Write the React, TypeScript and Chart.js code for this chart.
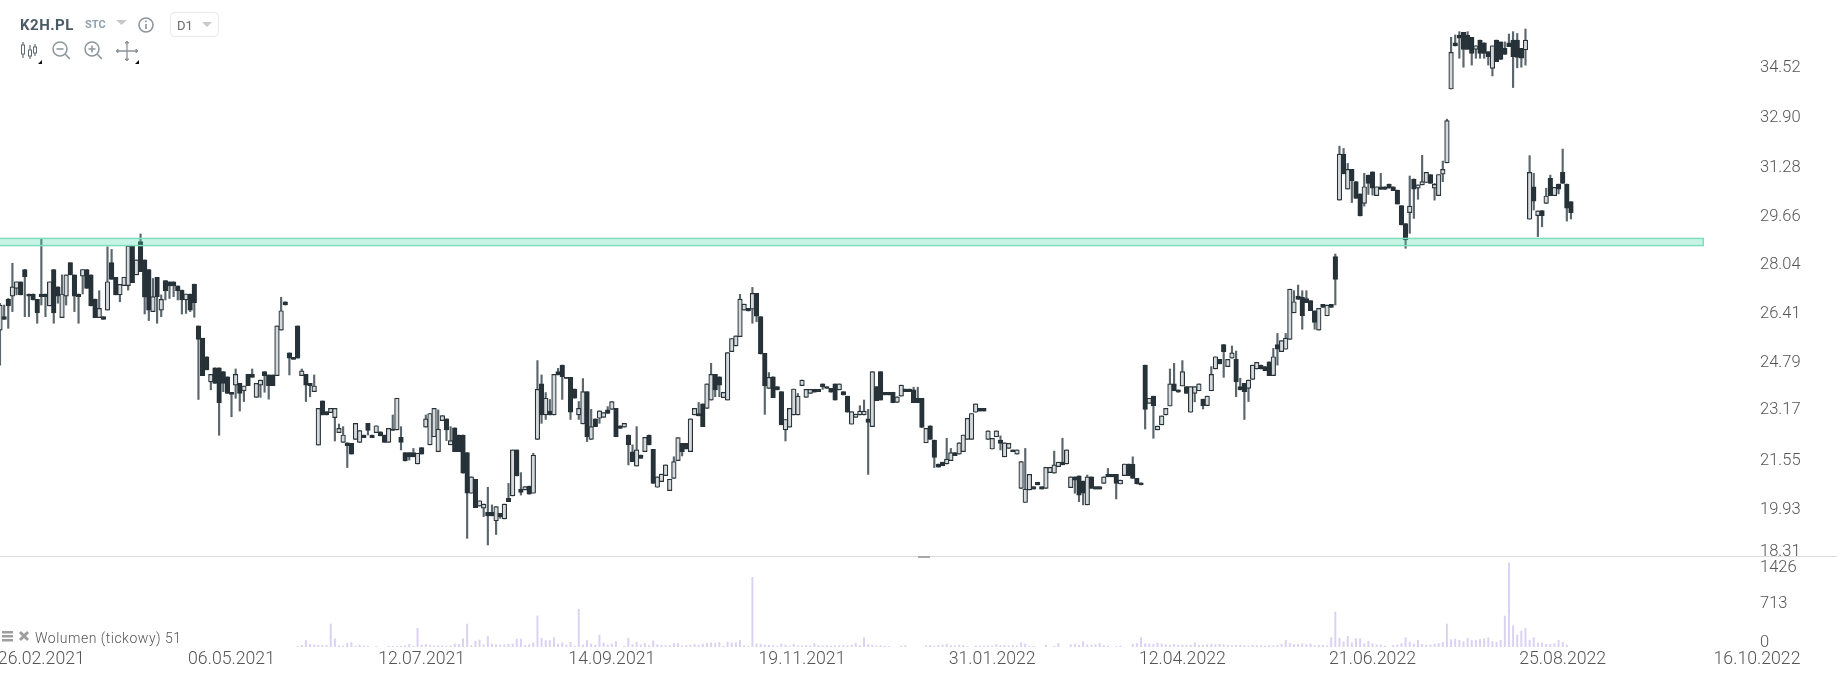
import { useEffect, useRef } from 'react';
import Chart from 'chart.js/auto';

// bar slots on the time axis, the last ones stay empty
const SLOT_COUNT = 426;

const opens = [
  25.76,26.21,26.79,26.90,27.16,27.38,27.79,26.97,26.97,26.79,
  26.97,26.97,26.57,27.79,27.21,26.18,26.90,28.02,27.61,26.97,
  27.57,27.79,27.61,26.80,26.18,26.21,26.43,28.02,27.53,26.94,
  27.25,27.25,28.58,27.61,28.72,28.11,27.79,26.38,27.53,26.43,
  27.42,27.38,27.38,27.24,27.10,26.77,26.97,27.30,25.90,25.49,
  24.87,24.03,24.50,24.50,24.37,24.20,23.68,23.92,23.98,23.73,
  24.28,24.28,23.51,23.92,24.37,24.26,24.26,24.24,25.76,26.71,
  25.00,24.85,25.90,24.24,24.28,23.98,23.70,21.91,23.39,23.03,
  23.00,22.83,22.33,22.00,21.99,21.97,22.10,22.00,22.25,22.64,
  22.25,22.33,22.36,22.25,22.00,22.45,22.42,22.17,21.66,21.66,
  21.66,21.28,21.83,22.51,21.92,22.19,21.69,22.73,22.79,21.92,
  22.49,22.25,22.25,21.66,20.30,20.77,19.87,19.80,19.66,19.66,
  19.38,19.63,19.44,20.13,20.21,21.75,20.43,20.41,20.54,20.30,
  22.10,23.96,22.92,23.05,22.92,24.37,24.59,24.18,24.18,23.79,
  22.92,22.62,23.70,22.10,22.79,22.81,22.84,23.09,23.11,23.14,
  22.56,22.51,22.25,21.69,21.21,21.58,21.69,22.25,21.77,20.50,
  20.69,20.89,20.39,20.80,21.39,21.97,21.97,21.69,22.92,22.97,
  23.29,23.14,23.42,24.28,24.20,23.50,23.42,25.04,25.23,25.54,
  26.43,26.49,26.46,26.99,26.21,24.98,23.81,24.20,23.87,23.70,
  22.42,22.51,22.92,22.92,23.90,23.51,23.64,23.78,23.78,23.96,
  23.87,23.81,23.96,23.76,23.70,23.55,22.61,22.84,22.92,22.92,
  22.79,22.53,23.87,24.37,23.68,23.68,23.68,23.34,23.55,23.79,
  23.79,23.76,23.48,23.48,21.99,22.56,22.08,21.28,21.34,21.28,
  21.39,21.66,21.61,21.69,22.10,22.10,23.01,23.14,23.14,22.10,
  21.78,22.19,22.08,21.52,21.80,21.75,21.61,20.46,19.99,20.41,
  20.52,20.67,20.52,20.46,20.99,20.97,21.19,21.34,21.28,20.49,
  20.85,20.88,20.71,19.91,20.85,20.52,20.52,20.63,20.93,20.93,
  20.93,20.61,20.89,21.28,21.28,20.80,20.65,24.59,23.31,23.55,
  22.42,22.59,22.92,23.22,23.96,23.76,23.89,23.87,23.01,23.64,
  23.73,23.45,23.23,23.73,24.46,24.78,25.28,24.54,24.82,24.78,
  23.87,23.98,23.81,24.11,24.46,24.59,24.54,24.70,24.24,25.28,
  25.04,25.12,25.45,26.34,26.90,26.86,26.82,26.75,26.41,25.76,
  26.62,26.24,26.62,28.22,30.11,31.65,30.48,31.14,30.73,30.32,
  30.00,30.95,31.06,30.26,30.56,30.56,30.65,30.56,30.45,29.93,
  29.33,29.69,30.82,30.51,30.62,30.70,30.97,30.51,30.26,30.98,
  31.36,33.83,35.38,35.64,35.73,35.64,35.56,35.16,35.47,35.38,
  35.08,34.52,35.47,35.41,35.19,35.38,35.47,35.47,35.19,35.14,
  29.47,30.56,29.59,29.76,30.00,30.84,30.26,30.65,31.04,30.65,30.06,
];

const highs = [
  26.66,26.60,26.82,28.00,27.38,27.38,27.79,26.97,26.97,26.79,
  28.80,26.97,27.38,27.79,27.21,27.61,27.61,28.02,27.61,26.97,
  27.79,27.79,27.61,26.80,27.08,26.21,28.55,28.46,27.53,27.29,
  27.53,28.58,28.58,28.11,28.98,28.11,27.79,27.49,27.53,26.94,
  27.42,27.38,27.38,27.24,27.10,26.97,26.97,27.30,25.90,25.49,
  24.87,24.28,24.50,24.50,24.37,24.20,23.68,24.46,23.98,23.89,
  24.28,24.46,23.98,24.09,24.37,24.26,24.26,25.90,26.86,26.71,
  25.00,24.85,25.90,24.46,24.28,23.98,24.26,23.14,23.39,23.03,
  23.14,23.14,22.62,22.53,21.99,21.97,22.64,22.40,22.25,22.64,
  22.25,22.56,22.36,22.25,22.47,22.92,23.48,22.53,21.66,21.66,
  21.80,21.64,21.83,22.92,22.97,23.14,23.09,22.90,22.79,22.53,
  22.49,22.25,22.25,21.66,20.85,20.77,20.05,19.94,20.50,19.91,
  19.85,19.63,19.94,20.63,21.75,21.75,20.99,20.52,20.54,21.64,
  24.74,24.26,23.67,23.44,24.28,24.48,24.59,24.18,24.18,23.79,
  23.37,24.14,23.70,23.11,22.79,23.06,23.00,23.20,23.37,23.14,
  22.56,22.64,22.25,21.92,22.53,21.58,22.17,22.25,21.77,20.85,
  20.94,21.25,20.77,21.52,22.16,21.97,21.97,22.79,23.14,23.34,
  23.29,23.96,24.65,24.28,24.20,23.68,25.01,25.48,25.57,26.96,
  26.63,26.49,27.19,26.99,26.21,24.98,24.34,24.20,23.87,23.70,
  22.77,23.14,23.79,23.64,24.09,23.78,23.78,23.78,23.78,23.96,
  23.87,23.81,23.96,23.96,23.70,23.55,23.03,22.95,23.23,23.42,
  23.11,24.37,23.87,24.37,23.68,23.68,23.68,23.53,23.92,23.79,
  23.79,23.85,23.85,23.48,22.47,22.56,22.08,21.28,21.34,22.14,
  21.80,21.66,21.99,22.25,22.81,22.97,23.29,23.14,23.14,22.39,
  22.14,22.39,22.22,21.99,21.97,21.75,21.75,21.36,21.80,20.93,
  20.52,20.67,20.52,21.17,21.17,21.71,21.34,22.14,21.75,20.85,
  20.85,20.88,20.71,20.91,20.85,20.52,20.52,20.85,21.13,20.93,
  20.93,20.74,21.28,21.28,21.52,20.80,20.65,24.59,23.48,23.55,
  22.55,22.89,23.14,24.46,24.65,23.76,24.74,23.87,23.87,23.87,
  23.96,23.45,23.55,24.54,24.87,24.78,25.28,24.78,25.23,25.06,
  24.15,23.98,24.09,24.59,24.68,24.59,24.54,24.70,25.15,25.65,
  25.41,25.65,27.13,27.08,27.27,27.08,27.08,26.75,26.41,26.49,
  26.62,26.60,26.62,28.31,31.92,31.84,31.34,31.14,30.73,30.32,
  31.01,30.95,31.06,30.56,31.01,30.56,30.65,30.56,30.45,29.93,
  29.33,30.92,30.82,30.62,31.61,31.04,30.97,30.67,30.97,31.42,
  32.82,35.56,35.64,35.75,35.73,35.75,35.56,35.28,35.47,35.38,
  35.08,35.28,35.47,35.41,35.41,35.67,35.75,35.69,35.19,35.84,
  31.60,31.01,29.75,29.76,30.51,30.95,30.54,30.65,31.82,30.65,30.06,
];

const lows = [
  24.59,26.12,25.82,26.38,26.94,26.94,26.21,26.21,26.77,25.99,
  26.60,26.21,26.57,25.99,26.66,26.18,26.60,27.61,26.38,25.99,
  26.97,27.16,26.57,26.18,26.18,26.12,26.43,27.46,26.94,26.71,
  27.25,27.10,27.35,27.61,27.72,26.30,26.08,26.38,25.99,26.21,
  26.77,26.82,26.88,26.77,26.30,26.32,26.38,26.19,23.44,24.24,
  24.43,23.76,23.98,22.24,23.70,23.64,22.86,23.48,23.05,23.37,
  23.90,24.18,23.51,23.51,23.68,23.45,23.90,24.24,25.76,26.60,
  24.26,24.78,24.82,24.24,23.37,23.53,23.70,21.91,22.92,22.92,
  23.00,22.05,22.33,22.00,21.16,21.61,22.10,22.00,22.16,22.25,
  22.16,22.33,22.22,22.00,22.00,22.40,22.42,21.75,21.38,21.41,
  21.52,21.28,21.61,22.51,21.92,22.19,21.69,22.73,22.06,21.92,
  21.69,21.69,20.97,18.79,20.30,19.82,19.87,19.52,18.57,19.54,
  18.92,19.46,19.44,20.02,20.21,20.88,20.24,20.41,20.27,20.30,
  22.10,22.64,22.77,22.92,22.92,24.26,23.44,24.14,22.77,23.48,
  22.77,22.62,22.03,22.10,22.53,22.64,22.84,22.97,23.11,22.19,
  22.47,22.51,21.25,21.36,21.21,21.47,21.69,21.92,20.63,20.50,
  20.69,20.89,20.39,20.80,21.39,21.55,21.78,21.69,22.92,22.89,
  22.53,23.14,23.42,23.53,23.53,23.50,23.42,25.04,25.23,25.54,
  26.43,26.40,25.99,26.04,24.96,22.94,23.81,23.50,23.76,22.59,
  22.05,22.51,22.92,22.92,23.90,23.51,23.64,23.68,23.70,23.78,
  23.81,23.68,23.42,23.76,23.59,23.01,22.61,22.84,22.92,22.92,
  20.93,22.53,23.40,23.42,23.59,23.59,23.33,23.34,23.55,23.70,
  23.70,23.33,23.33,22.50,21.99,22.10,21.16,21.17,21.22,21.28,
  21.39,21.56,21.61,21.69,22.10,22.10,23.01,23.05,23.05,22.10,
  21.78,22.19,21.75,21.52,21.80,21.69,21.61,20.46,19.99,20.41,
  20.44,20.58,20.44,20.46,20.99,20.97,21.19,21.25,21.28,20.49,
  20.30,20.02,19.91,19.91,20.46,20.44,20.44,20.63,20.85,20.85,
  20.11,20.61,20.89,20.89,20.80,20.61,20.58,22.45,23.31,22.14,
  22.42,22.59,22.92,23.22,23.73,23.68,23.89,23.64,23.01,23.36,
  23.73,23.12,23.23,23.73,24.46,24.63,24.18,24.54,24.82,23.53,
  23.76,22.77,23.37,24.11,24.46,24.46,24.40,24.24,24.24,24.59,
  25.04,25.12,25.45,26.34,26.79,25.79,26.68,26.41,25.79,25.76,
  26.52,26.24,26.52,26.60,30.11,30.99,30.48,30.03,30.17,29.58,
  29.91,30.30,30.28,30.26,30.47,30.47,30.51,30.43,29.98,29.28,
  28.50,29.00,29.50,30.14,30.62,30.70,30.67,30.11,30.26,30.73,
  31.36,33.83,35.27,34.86,34.56,35.16,34.63,34.86,34.86,34.86,
  34.63,34.27,34.75,34.82,34.99,35.25,33.88,34.54,34.56,34.63,
  29.47,29.78,28.89,29.22,30.00,30.26,30.26,30.32,30.67,29.41,29.48,
];

const closes = [
  26.60,26.12,26.57,27.21,27.38,26.94,27.55,26.90,26.77,26.34,
  26.88,26.88,27.38,26.34,26.90,26.97,27.61,27.61,26.90,26.88,
  27.79,27.16,26.57,26.18,26.49,26.12,27.38,27.46,26.94,27.29,
  27.53,28.58,27.35,28.11,27.72,26.86,26.43,26.88,26.88,26.79,
  27.08,27.24,27.24,27.08,26.77,26.97,26.43,26.68,25.45,24.24,
  24.43,24.28,23.98,23.33,23.98,23.64,23.61,24.28,23.64,23.89,
  23.90,24.18,23.98,24.09,24.24,23.90,23.90,25.90,26.41,26.60,
  24.82,24.78,24.82,24.40,23.92,23.90,23.89,23.14,22.92,22.92,
  23.14,23.14,22.47,22.25,21.89,21.61,22.64,22.40,22.16,22.40,
  22.16,22.56,22.22,22.00,22.47,22.40,23.48,22.00,21.38,21.52,
  21.52,21.64,21.61,22.79,22.97,23.14,22.45,22.90,22.42,22.06,
  21.69,21.69,20.97,20.30,20.85,19.82,20.05,19.94,19.54,19.54,
  19.85,19.52,19.94,20.02,21.75,20.88,20.33,20.52,20.27,21.58,
  23.78,22.92,23.48,22.92,24.28,24.26,24.20,24.14,23.01,23.48,
  23.14,23.70,22.19,22.53,22.53,23.06,23.00,22.97,23.37,22.19,
  22.47,22.64,21.92,21.36,21.75,21.47,22.17,21.92,20.63,20.85,
  20.94,21.25,20.77,21.36,22.16,21.69,21.78,22.79,23.14,22.89,
  22.53,23.96,24.28,23.76,23.92,23.68,25.01,25.48,25.57,26.80,
  26.63,26.40,26.99,26.23,24.96,23.89,24.18,23.50,23.76,22.59,
  22.77,23.14,23.79,23.55,24.09,23.78,23.78,23.68,23.70,23.87,
  23.81,23.68,23.42,23.96,23.59,23.01,23.03,22.95,23.05,23.05,
  22.67,24.37,23.40,23.42,23.59,23.59,23.33,23.53,23.92,23.70,
  23.70,23.33,23.33,22.50,22.47,22.10,21.50,21.17,21.22,21.44,
  21.66,21.56,21.99,22.25,22.81,22.97,23.29,23.05,23.05,22.39,
  22.14,22.39,21.97,21.99,21.97,21.69,21.75,21.36,20.44,20.93,
  20.44,20.58,20.44,21.17,21.17,21.25,21.34,21.25,21.75,20.85,
  20.74,20.24,20.30,20.85,20.46,20.44,20.44,20.85,20.85,20.85,
  20.63,20.74,21.28,20.89,20.80,20.61,20.58,23.11,23.48,23.23,
  22.55,22.89,23.14,23.96,23.73,23.68,24.37,23.64,23.87,23.87,
  23.96,23.23,23.55,24.28,24.87,24.63,25.04,24.78,25.00,24.03,
  23.76,23.70,24.09,24.59,24.68,24.46,24.40,24.24,24.87,25.12,
  25.41,25.49,27.13,26.71,26.79,26.24,26.68,26.41,26.02,26.49,
  26.52,26.60,26.52,27.46,31.65,30.99,31.14,30.76,30.17,29.58,
  30.56,30.67,30.51,30.56,30.47,30.47,30.51,30.43,29.98,29.28,
  28.78,29.91,30.48,30.62,30.73,31.04,30.67,30.64,30.97,31.14,
  32.77,35.06,35.27,35.53,35.16,35.16,35.02,35.28,35.02,35.02,
  34.91,35.28,34.75,34.82,34.99,35.25,34.91,34.89,34.86,35.47,
  31.04,30.08,29.75,29.59,30.25,30.26,30.54,30.48,30.67,29.84,29.69,
];

// the volume pane only starts at bar 72
const VOLUME_FIRST_BAR = 72;
const volumes = [
  10,30,110,45,35,30,25,30,
  390,140,25,15,60,75,15,35,20,12,0,8,
  0,0,10,12,14,10,20,45,12,317,
  30,45,25,20,22,18,15,20,50,45,
  140,390,25,100,120,40,180,50,40,35,
  40,45,50,135,135,25,40,70,526,150,
  110,110,160,50,70,35,80,15,640,35,
  110,50,30,204,70,35,50,90,0,15,
  150,40,80,35,60,25,105,40,30,25,
  25,60,60,20,25,35,45,30,50,60,
  70,60,80,15,80,70,70,110,25,10,
  1183,55,45,35,30,25,15,50,35,15,
  45,20,20,25,20,60,25,20,25,15,
  20,25,25,20,30,60,25,158,40,30,
  15,25,15,10,0,0,15,25,0,0,
  0,0,20,25,15,30,35,50,25,20,
  30,30,10,0,15,15,15,20,15,40,
  25,25,20,25,15,70,50,10,15,0,
  0,35,0,15,60,0,0,40,50,30,
  90,40,30,40,60,25,15,0,10,15,
  0,0,50,60,158,55,50,45,70,50,
  40,35,45,30,35,30,35,70,30,30,
  40,50,40,45,40,30,25,30,35,25,
  15,30,25,25,15,25,20,30,45,113,
  60,40,45,55,40,50,25,30,30,20,
  158,594,150,85,181,70,141,141,55,96,
  55,35,35,15,0,25,35,60,158,85,
  50,113,45,30,35,50,60,80,390,125,
  135,113,90,147,113,113,125,141,158,90,
  80,113,526,1426,362,204,272,317,113,158,
  68,68,45,45,57,113,79,34,
];

// the printed labels sit a little off their values in the source chart, so where each
// tick is placed and what it says are kept apart
const priceTickValues = [18.34, 19.75, 21.40, 23.08, 24.65, 26.30, 27.95, 29.55, 31.20, 32.85, 34.53];
const priceTickLabels = ['18.31', '19.93', '21.55', '23.17', '24.79', '26.41', '28.04', '29.66', '31.28', '32.90', '34.52'];
const volumeTickValues = [62, 725, 1340];
const volumeTickLabels = ['0', '713', '1426'];
const dateTickBars = [10, 56, 102, 148, 194, 240, 286, 332, 378, 425];
const dateTickLabels = [
  '26.02.2021', '06.05.2021', '12.07.2021', '14.09.2021', '19.11.2021',
  '31.01.2022', '12.04.2022', '21.06.2022', '25.08.2022', '16.10.2022',
];

const ZONE_LOW = 28.59;
const ZONE_HIGH = 28.83;
const ZONE_END_BAR = 412;

const TEXT_COLOR = '#555555';
const DARK = '#263238';
const priceFont = { family: 'Roboto', size: 16.5, weight: 300 };
const dateFont = { family: 'Roboto', size: 17.7, weight: 300 };

const zonePlugin = {
  id: 'supportZone',
  afterDatasetsDraw(chart: any) {
    const { ctx, scales } = chart;
    const top = scales.price.getPixelForValue(ZONE_HIGH);
    const bottom = scales.price.getPixelForValue(ZONE_LOW);
    const right = scales.x.getPixelForValue(ZONE_END_BAR);
    ctx.save();
    ctx.fillStyle = 'rgba(70, 215, 165, 0.3)';
    ctx.strokeStyle = '#7fdfbd';
    ctx.lineWidth = 1.5;
    ctx.fillRect(-2, top, right + 2, bottom - top);
    ctx.strokeRect(-2, top, right + 2, bottom - top);
    ctx.restore();
  },
};

// chart.js reserves room for half a label above the top tick, which would squeeze the panes
const fitRightAxis = (scale: any) => {
  scale.width = 80;
  scale.paddingTop = 0;
  scale.paddingBottom = 0;
};

const ChartIcons = () => (
  <svg
    width={240}
    height={72}
    style={{ position: 'absolute', left: 0, top: 0 }}
    fontFamily="Roboto"
  >
    <text x={20} y={30} fontSize={15} fontWeight={700} fill="#4b5b66" letterSpacing={0.5}>K2H.PL</text>
    <text x={85} y={28} fontSize={11} fontWeight={700} fill="#8ea3b0">STC</text>
    <path d="M116 20h11l-5.500 5z" fill="#c9c9c9" />
    <circle cx={146} cy={25} r={7} fill="none" stroke="#8b959b" strokeWidth={1.6} />
    <path d="M146 24v5M146 20.500v1.800" stroke="#8b959b" strokeWidth={1.6} />
    <rect x={170.500} y={12.500} width={48} height={24} rx={4} fill="none" stroke="#e6e8ea" />
    <text x={177} y={30} fontSize={13} fill="#6d6d6d">D1</text>
    <path d="M202 22h10l-5 5z" fill="#c9c9c9" />
    {/* candle tool */}
    <path d="M23 42v16M30 45v14M35 44v12" stroke="#7b858b" strokeWidth={1.4} />
    <rect x={21.500} y={45} width={3} height={9} fill="#fff" stroke="#5e6a70" />
    <rect x={28.500} y={50} width={3} height={6} fill="#fff" stroke="#5e6a70" />
    <rect x={33.500} y={47} width={3} height={6} fill="#fff" stroke="#5e6a70" />
    <path d="M42 60v4h-4z" fill="#111" />
    {/* zoom out, zoom in */}
    <circle cx={60} cy={49} r={7} fill="none" stroke="#8b959b" strokeWidth={1.5} />
    <path d="M56.500 49h7M65 54l5 5" stroke="#8b959b" strokeWidth={1.5} />
    <circle cx={92} cy={49} r={7} fill="none" stroke="#8b959b" strokeWidth={1.5} />
    <path d="M88.500 49h7M92 45.500v7M97 54l5 5" stroke="#8b959b" strokeWidth={1.5} />
    {/* pan tool */}
    <path d="M118 51h18M127 42v18" stroke="#8b959b" strokeWidth={1.3} />
    <path d="M118 49v4l-2-2zM136 49v4l2-2zM125 43h4l-2-2zM125 59h4l-2 2z" fill="#8b959b" stroke="#8b959b" />
    <path d="M139 60v4h-4z" fill="#111" />
  </svg>
);

const VolumeLegend = () => (
  <svg
    width={200}
    height={24}
    style={{ position: 'absolute', left: 0, top: 626 }}
    fontFamily="Roboto"
  >
    <path d="M2 5h11v2.500H2zM2 9h11v2.500H2zM2 13h11v2.500H2z" fill="#9e9e9e" />
    <path d="M20 6l8 8M28 6l-8 8" stroke="#9e9e9e" strokeWidth={3} />
    <text x={35} y={17} fontSize={14} fontWeight={300} fill="#555" letterSpacing={0.5}>Wolumen (tickowy) 51</text>
  </svg>
);

export default function App() {
  const canvasRef = useRef<HTMLCanvasElement>(null);

  useEffect(() => {
    if (!canvasRef.current) return;

    const barLabels = Array.from({ length: SLOT_COUNT }, (_, i) => String(i));
    const wicks = lows.map((low, i) => [low, highs[i]]);
    const bodies = opens.map((open, i) => [Math.min(open, closes[i]), Math.max(open, closes[i])]);
    const bodyColors = opens.map((open, i) => (closes[i] > open ? '#d6d9db' : DARK));
    const volumeBars = [...new Array(VOLUME_FIRST_BAR).fill(null), ...volumes.map((v) => v || null)];

    const chart = new Chart(canvasRef.current, {
      type: 'bar',
      data: {
        labels: barLabels,
        datasets: [
          {
            data: bodies as any,
            yAxisID: 'price',
            backgroundColor: bodyColors,
            borderColor: DARK,
            borderWidth: 1.2,
            borderSkipped: false,
            barThickness: 4.6,
            grouped: false,
            order: 1,
          },
          {
            data: wicks as any,
            yAxisID: 'price',
            backgroundColor: '#5b676c',
            borderWidth: 0,
            barThickness: 1.5,
            grouped: false,
            order: 2,
          },
          {
            data: volumeBars,
            yAxisID: 'volume',
            backgroundColor: '#dbd1f2',
            borderWidth: 0,
            barThickness: 1.3,
            grouped: false,
            order: 3,
          },
        ],
      },
      options: {
        animation: false,
        responsive: false,
        devicePixelRatio: 1,
        layout: { padding: 0 },
        plugins: {
          legend: { display: false },
          tooltip: { enabled: false },
        },
        scales: {
          x: {
            offset: false,
            grid: { display: false, drawTicks: false },
            border: { display: false },
            afterBuildTicks: (scale: any) => {
              scale.ticks = dateTickBars.map((value) => ({ value }));
            },
            afterFit: (scale: any) => {
              scale.height = 33;
              scale.paddingLeft = 0;
              scale.paddingRight = 0;
            },
            ticks: {
              autoSkip: false,
              maxRotation: 0,
              padding: 2,
              color: TEXT_COLOR,
              font: dateFont,
              callback: (value: any) => dateTickLabels[dateTickBars.indexOf(value)],
            },
          },
          price: {
            type: 'linear',
            position: 'right',
            stack: 'panes',
            stackWeight: 556,
            min: 18.2,
            max: 36.81,
            grid: { display: false, drawTicks: false },
            border: { display: false },
            afterBuildTicks: (scale: any) => {
              scale.ticks = priceTickValues.map((value) => ({ value }));
            },
            afterFit: fitRightAxis,
            ticks: {
              padding: 3,
              color: TEXT_COLOR,
              font: priceFont,
              callback: (value: any) => priceTickLabels[priceTickValues.indexOf(value)],
            },
          },
          volume: {
            type: 'linear',
            position: 'right',
            stack: 'panes',
            stackWeight: 91,
            min: 0,
            max: 1545,
            grid: { display: false, drawTicks: false },
            border: { display: false },
            afterBuildTicks: (scale: any) => {
              scale.ticks = volumeTickValues.map((value) => ({ value }));
            },
            afterFit: fitRightAxis,
            ticks: {
              padding: 3,
              color: TEXT_COLOR,
              font: priceFont,
              callback: (value: any) => volumeTickLabels[volumeTickValues.indexOf(value)],
            },
          },
        },
      },
      plugins: [zonePlugin],
    });

    return () => chart.destroy();
  }, []);

  return (
    <div style={{ position: 'relative', width: 1837, height: 680, overflow: 'hidden', background: '#fff' }}>
      <style>{'body { margin: 0; }'}</style>
      <canvas ref={canvasRef} width={1837} height={680} style={{ display: 'block' }} />
      <div style={{ position: 'absolute', left: 0, right: 0, top: 556, height: 1, background: '#dcdfe1' }} />
      <div style={{ position: 'absolute', left: 918, top: 556, width: 12, height: 2, background: '#a8a8a8' }} />
      <ChartIcons />
      <VolumeLegend />
    </div>
  );
}
